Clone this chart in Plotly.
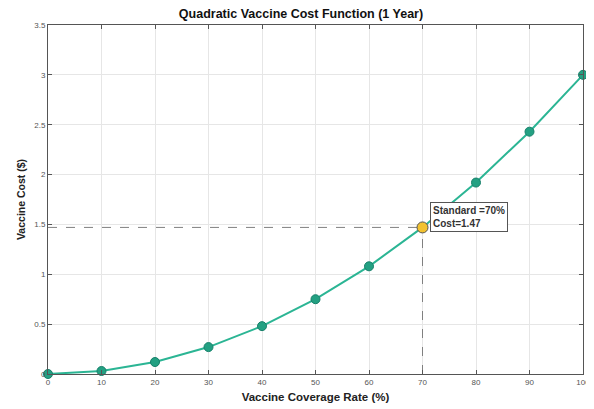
import plotly.graph_objects as go

coverage = [0, 10, 20, 30, 40, 50, 60, 70, 80, 90, 100]
cost = [0.0, 0.03, 0.12, 0.27, 0.48, 0.75, 1.08, 1.47, 1.92, 2.43, 3.0]
std_cov = 70
std_cost = 1.47
x_ticks = [0, 10, 20, 30, 40, 50, 60, 70, 80, 90, 100]
y_ticks = [0, 0.5, 1, 1.5, 2, 2.5, 3, 3.5]
y_tick_text = ["0", "0.5", "1", "1.5", "2", "2.5", "3", "3.5"]

fig = go.Figure()
fig.add_trace(go.Scatter(x=[0, std_cov], y=[std_cost, std_cost], mode="lines",
                         line=dict(color="#808080", width=1, dash="dash"), showlegend=False))
fig.add_trace(go.Scatter(x=[std_cov, std_cov], y=[0, std_cost], mode="lines",
                         line=dict(color="#808080", width=1, dash="dash"), showlegend=False))
fig.add_trace(go.Scatter(x=coverage, y=cost, mode="lines+markers", cliponaxis=False,
                         line=dict(color="#2bb594", width=2),
                         marker=dict(size=9, color="#23a082", line=dict(color="#17806a", width=1)),
                         showlegend=False))
fig.add_trace(go.Scatter(x=[std_cov], y=[std_cost], mode="markers", cliponaxis=False,
                         marker=dict(size=11, color="#f2c230", line=dict(color="#555555", width=1)),
                         showlegend=False))
fig.add_annotation(x=std_cov, y=std_cost, text="<b>Standard =70%</b><br><b>Cost=1.47</b>",
                   showarrow=False, xanchor="left", yanchor="bottom", xshift=7, yshift=-5,
                   align="left", bgcolor="white", bordercolor="#555555", borderwidth=1,
                   borderpad=2, font=dict(size=10, color="#333333", family="Arial"))

axis_common = dict(showgrid=True, gridcolor="#e6e6e6", gridwidth=1, zeroline=False,
                   showline=True, linecolor="#555555", linewidth=1, mirror="ticks",
                   ticks="inside", ticklen=4, tickcolor="#555555", automargin=False,
                   tickfont=dict(size=8, color="#555555", family="Arial"))
fig.update_xaxes(range=[0, 100], tickvals=x_ticks,
                 title=dict(text="<b>Vaccine Coverage Rate (%)</b>", font=dict(size=11.5, color="#222222", family="Arial"), standoff=7),
                 **axis_common)
fig.update_yaxes(range=[0, 3.5], tickvals=y_ticks, ticktext=y_tick_text,
                 title=dict(text="<b>Vaccine Cost ($)</b>", font=dict(size=10.5, color="#222222", family="Arial"), standoff=6),
                 **axis_common)
fig.update_layout(
    width=586, height=401,
    margin=dict(l=40, r=11, t=17, b=35),
    plot_bgcolor="white", paper_bgcolor="white",
    title=dict(text="<b>Quadratic Vaccine Cost Function (1 Year)</b>", x=0.5, xanchor="center",
               y=0.985, yanchor="middle", font=dict(size=12.5, color="#111111", family="Arial")),
)
fig.write_html("out.html")
